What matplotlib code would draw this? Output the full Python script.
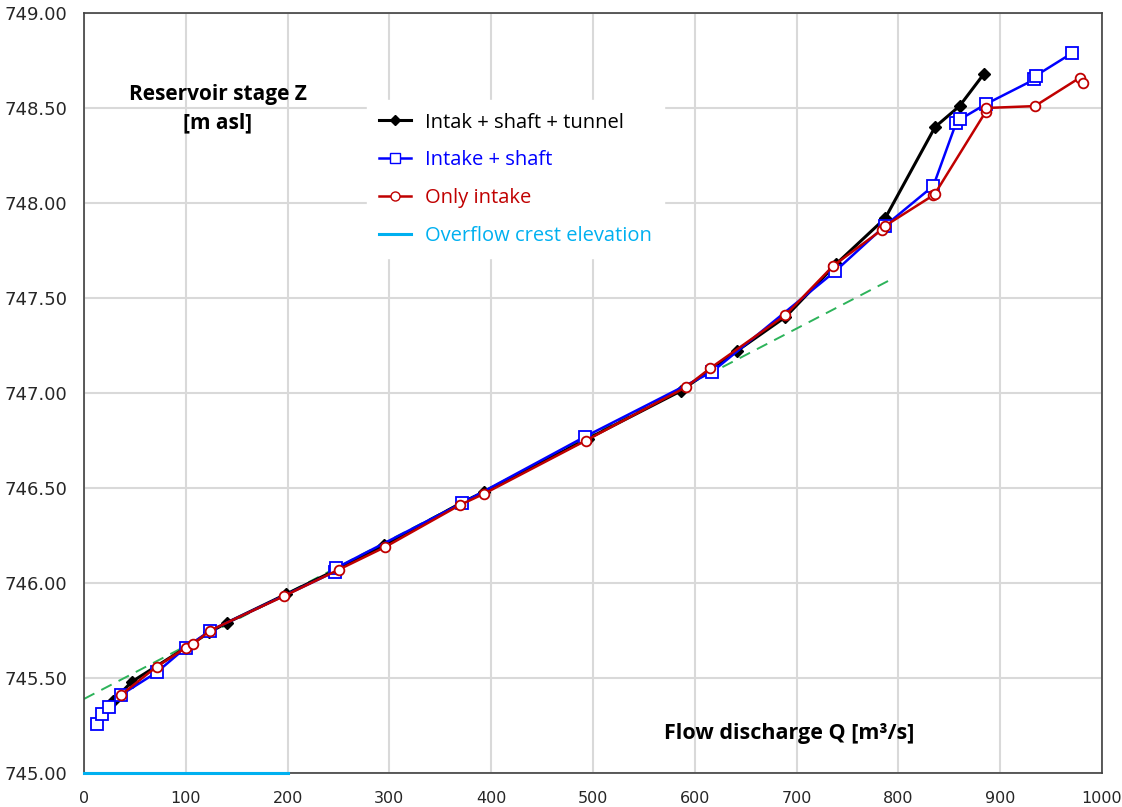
import matplotlib
matplotlib.use("Agg")
import matplotlib.pyplot as plt
from matplotlib.lines import Line2D

# ---- data ----
q_tunnel = [28.5, 46.8, 100, 123, 140, 198, 248, 295, 370, 393, 495, 586, 641, 689, 739, 787, 836, 860, 884]
z_tunnel = [745.38, 745.48, 745.66, 745.74, 745.79, 745.94, 746.07, 746.20, 746.42, 746.48, 746.76,
            747.01, 747.22, 747.40, 747.68, 747.92, 748.40, 748.51, 748.68]

q_shaft = [12.4, 17.3, 24.9, 36, 71.4, 100, 124, 246.6, 248, 371, 492, 616.6, 737.7, 786.8, 834.3,
           856.6, 860.5, 885.7, 933.5, 935, 970.9]
z_shaft = [745.26, 745.31, 745.35, 745.41, 745.53, 745.66, 745.75, 746.06, 746.08, 746.42, 746.77,
           747.11, 747.64, 747.88, 748.09, 748.42, 748.44, 748.52, 748.65, 748.67, 748.79]

q_intake = [36, 71.4, 100.2, 107.4, 123.8, 196, 250, 296, 369, 393, 493, 591, 615, 689, 736, 784, 787,
            834, 836, 885.7, 886, 934, 978.4, 981.6]
z_intake = [745.41, 745.56, 745.66, 745.68, 745.75, 745.93, 746.07, 746.19, 746.41, 746.47, 746.75,
            747.03, 747.13, 747.41, 747.67, 747.86, 747.88, 748.04, 748.05, 748.48, 748.50, 748.51,
            748.66, 748.63]

q_trend = [0, 790]
z_trend = [745.39, 747.59]

q_crest = [0, 200]
z_crest = [745.00, 745.00]

x_ticks = [0, 100, 200, 300, 400, 500, 600, 700, 800, 900, 1000]
y_ticks = [745.0, 745.5, 746.0, 746.5, 747.0, 747.5, 748.0, 748.5, 749.0]

labels = ["Intak + shaft + tunnel", "Intake + shaft", "Only intake", "Overflow crest elevation"]

# ---- styling ----
c_black = "#000000"
c_blue = "#0000FF"
c_red = "#C00000"
c_cyan = "#00B0F0"
c_green = "#2DB35A"

fig = plt.figure(figsize=(11.22, 8.07), dpi=100)
ax = fig.add_axes([0.0749, 0.0421, 0.9073, 0.9418])

ax.plot(q_trend, z_trend, color=c_green, lw=1.4, ls=(0, (6, 4)), zorder=2)
ax.plot(q_crest, z_crest, color=c_cyan, lw=2.2, zorder=3, clip_on=False)
ax.plot(q_tunnel, z_tunnel, color=c_black, lw=2.2, marker="D", ms=6.5, mfc=c_black, mec=c_black, zorder=4)
ax.plot(q_shaft, z_shaft, color=c_blue, lw=1.8, marker="s", ms=8, mfc="white", mec=c_blue, mew=1.3, zorder=5)
ax.plot(q_intake, z_intake, color=c_red, lw=1.8, marker="o", ms=7, mfc="white", mec=c_red, mew=1.3, zorder=6)

ax.set_xlim(0, 1000)
ax.set_ylim(745, 749)
ax.set_xticks(x_ticks)
ax.set_xticklabels([str(v) for v in x_ticks])
ax.set_yticks(y_ticks)
ax.set_yticklabels([f"{v:.2f}" for v in y_ticks])
ax.tick_params(axis="y", length=0, labelsize=13, colors="#262626", pad=12)
ax.tick_params(axis="x", length=0, labelsize=11.5, colors="#262626", pad=13)
for lab in ax.get_xticklabels() + ax.get_yticklabels():
    lab.set_family("DejaVu Sans")

ax.grid(True, color="#D9D9D9", lw=1.5)
ax.set_axisbelow(True)
for s in ax.spines.values():
    s.set_color("#404040")
    s.set_linewidth(1.2)

ax.text(0.1316, 0.874, "Reservoir stage Z\n[m asl]", transform=ax.transAxes, ha="center", va="center",
        fontsize=15, fontweight="bold", family="Open Sans", linespacing=1.42)
ax.text(0.6925, 0.0525, "Flow discharge Q [m³/s]", transform=ax.transAxes, ha="center", va="center",
        fontsize=15.5, fontweight="bold", family="Open Sans")

handles = [
    Line2D([], [], color=c_black, lw=2.2, marker="D", ms=5, mfc=c_black, mec=c_black),
    Line2D([], [], color=c_blue, lw=1.8, marker="s", ms=7, mfc="white", mec=c_blue),
    Line2D([], [], color=c_red, lw=1.8, marker="o", ms=6.5, mfc="white", mec=c_red),
    Line2D([], [], color=c_cyan, lw=2.2),
]
leg = fig.legend(handles, labels, loc="upper left", bbox_to_anchor=(0.318, 0.888),
                 frameon=True, fancybox=False, framealpha=1, edgecolor="white", facecolor="white",
                 prop={"family": "Open Sans", "size": 14.5}, handlelength=1.6, handletextpad=0.7,
                 labelspacing=0.88, borderpad=0.6)
for txt, col in zip(leg.get_texts(), [c_black, c_blue, c_red, c_cyan]):
    txt.set_color(col)

fig.savefig("out.png", dpi=100)
